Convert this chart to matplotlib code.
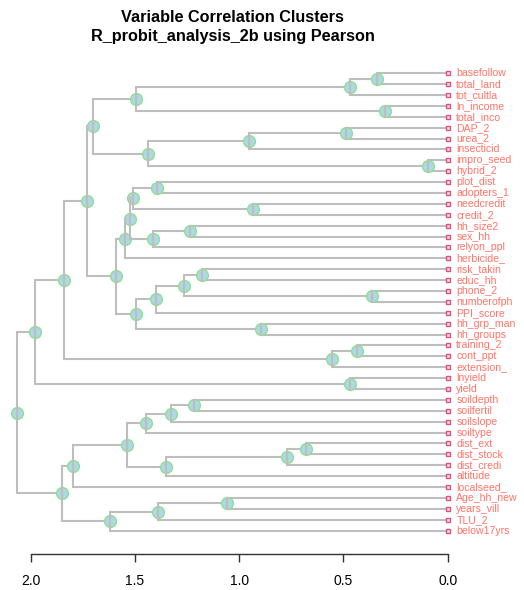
import matplotlib
matplotlib.use("Agg")
import matplotlib.pyplot as plt

plt.rcParams['font.family'] = ['Liberation Sans', 'DejaVu Sans']

title1 = "Variable Correlation Clusters"
title2 = "R_probit_analysis_2b using Pearson"

leaves = ["basefollow", "total_land", "tot_cultla", "ln_income", "total_inco",
          "DAP_2", "urea_2", "insecticid", "impro_seed", "hybrid_2",
          "plot_dist", "adopters_1", "needcredit", "credit_2", "hh_size2",
          "sex_hh", "relyon_ppl", "herbicide_", "risk_takin", "educ_hh",
          "phone_2", "numberofph", "PPI_score", "hh_grp_man", "hh_groups",
          "training_2", "cont_ppt", "extension_", "lnyield", "yield",
          "soildepth", "soilfertil", "soilslope", "soiltype", "dist_ext",
          "dist_stock", "dist_credi", "altitude", "localseed_", "Age_hh_new",
          "years_vill", "TLU_2", "below17yrs"]

# merges: (left child, right child, height); children are leaf names or "m<k>"
merge_left = ["basefollow", "m0", "ln_income", "m1", "DAP_2", "m4", "impro_seed", "m5", "m3",
              "plot_dist", "needcredit", "m9", "hh_size2", "m12", "m11", "m14",
              "risk_takin", "phone_2", "m16", "m18", "hh_grp_man", "m19", "m15", "m8",
              "training_2", "m24", "m23", "lnyield", "m26",
              "soildepth", "m29", "m30", "dist_ext", "m32", "m33", "m31", "m35",
              "Age_hh_new", "m37", "m38", "m36", "m28"]
merge_right = ["total_land", "tot_cultla", "total_inco", "m2", "urea_2", "insecticid", "hybrid_2", "m6", "m7",
               "adopters_1", "credit_2", "m10", "sex_hh", "relyon_ppl", "m13", "herbicide_",
               "educ_hh", "numberofph", "m17", "PPI_score", "hh_groups", "m20", "m21", "m22",
               "cont_ppt", "extension_", "m25", "yield", "m27",
               "soilfertil", "soilslope", "soiltype", "dist_stock", "dist_credi", "altitude", "m34", "localseed_",
               "years_vill", "TLU_2", "below17yrs", "m39", "m40"]
merge_height = [0.337, 0.470, 0.300, 1.493, 0.489, 0.953, 0.096, 1.436, 1.701,
                1.394, 0.934, 1.508, 1.236, 1.415, 1.525, 1.549,
                1.180, 0.361, 1.265, 1.399, 0.895, 1.495, 1.592, 1.730,
                0.433, 0.553, 1.838, 0.470, 1.977,
                1.217, 1.327, 1.447, 0.680, 0.772, 1.351, 1.535, 1.795,
                1.057, 1.391, 1.620, 1.848, 2.066]

axis_ticks = [2.0, 1.5, 1.0, 0.5, 0.0]
tick_labels = ["2.0", "1.5", "1.0", "0.5", "0.0"]

W, H = 524, 590
fig = plt.figure(figsize=(W / 100, H / 100), dpi=100)

# axes placement in pixels
ax_left, ax_right = 10, 460
ax_top, ax_bot = 60, 554.3
ax = fig.add_axes([ax_left / W, 1 - ax_bot / H, (ax_right - ax_left) / W, (ax_bot - ax_top) / H])

x0px, x2px = 447.7, 30.5
ppu = (x0px - x2px) / 2.0
ax.set_xlim((x0px - ax_left) / ppu, (x0px - ax_right) / ppu)
y_first, step = 73.2, 10.89
ax.set_ylim((ax_bot - y_first) / step, (ax_top - y_first) / step)

line_col = '#BEBEBE'
lw = 1.5

pos = {}
for i, name in enumerate(leaves):
    pos[name] = (0.0, float(i))

for k, (a, b, h) in enumerate(zip(merge_left, merge_right, merge_height)):
    xa, ya = pos[a]
    xb, yb = pos[b]
    # horizontal branches
    ax.plot([h, xa], [ya, ya], color=line_col, lw=lw, zorder=2, solid_capstyle='butt')
    ax.plot([h, xb], [yb, yb], color=line_col, lw=lw, zorder=2, solid_capstyle='butt')
    # vertical branch
    ax.plot([h, h], [ya, yb], color=line_col, lw=lw, zorder=4, solid_capstyle='projecting')
    pos["m%d" % k] = (h, (ya + yb) / 2.0)

# node markers
for k, h in enumerate(merge_height):
    x, y = pos["m%d" % k]
    ax.plot([x], [y], marker='o', ms=8.5, mfc='#ADD8E6', mec='#8EE08E', mew=1.0,
            zorder=3, linestyle='none')

# leaf markers and labels
for i, name in enumerate(leaves):
    ax.plot([0.0], [i], marker='s', ms=3.2, mfc='#FFE0E8', mec='#E0507A', mew=1.0,
            zorder=5, linestyle='none')
    ax.annotate(name, xy=(0.0, i), xytext=(6.2, 0), textcoords='offset points',
                ha='left', va='center', fontsize=7.6, color='#FF7468')

for s in ['top', 'right', 'left']:
    ax.spines[s].set_visible(False)
ax.spines['bottom'].set_bounds(2.0, 0.0)
ax.spines['bottom'].set_color('#333333')
ax.spines['bottom'].set_linewidth(1.0)
ax.set_yticks([])
ax.set_xticks(axis_ticks)
ax.set_xticklabels(tick_labels, fontsize=10)
ax.tick_params(axis='x', direction='out', length=5.6, width=1.0, color='#333333', pad=8.5)
ax.patch.set_visible(False)

fig.text(232.5 / W, 1 - 17 / H, title1, ha='center', va='center', fontsize=11.7, fontweight='bold')
fig.text(232.5 / W, 1 - 37 / H, title2, ha='center', va='center', fontsize=11.7, fontweight='bold')

fig.savefig("out.png", dpi=100)
